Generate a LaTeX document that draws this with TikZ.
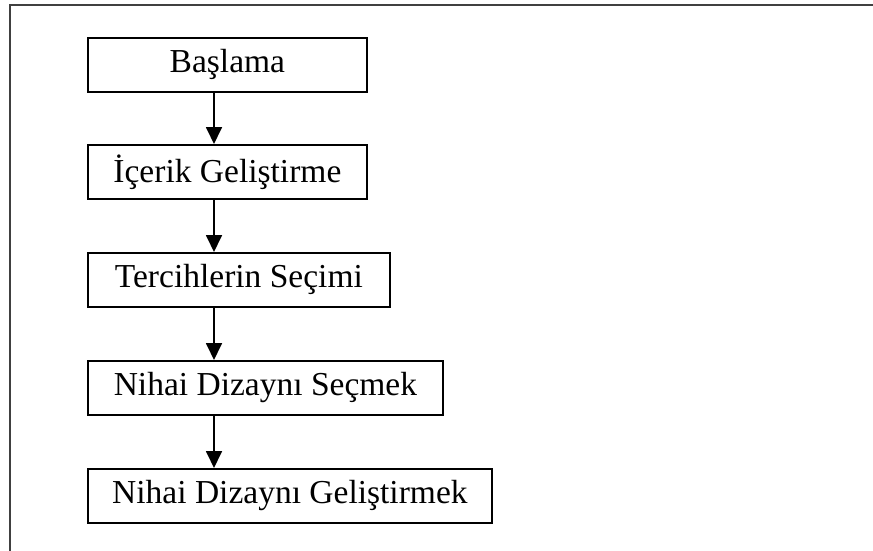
\documentclass[tikz,border=0pt]{standalone}
\usepackage{fontspec}
\setmainfont{Liberation Serif}
\usetikzlibrary{arrows.meta}
\begin{document}
\begin{tikzpicture}[x=1pt,y=-1pt,
  stepbox/.style={draw=black, line width=1.8pt, anchor=north west, minimum height=54pt,
    inner sep=0pt, font=\fontsize{33.5}{38}\selectfont, text=black},
  arr/.style={draw=black, line width=1.8pt, -{Triangle[length=17pt,width=16pt]}},
  frame/.style={draw=black!75, line width=2pt}]
\useasboundingbox (0,0) rectangle (873,551);
\draw[frame] (10,551) -- (10,5) -- (873,5);
\node[stepbox, minimum width=279pt] (b1) at (87,37) {Başlama};
\node[stepbox, minimum width=279pt] (b2) at (87,144) {İçerik Geliştirme};
\node[stepbox, minimum width=302pt] (b3) at (87,252) {Tercihlerin Seçimi};
\node[stepbox, minimum width=355pt] (b4) at (87,360) {Nihai Dizaynı Seçmek};
\node[stepbox, minimum width=404pt] (b5) at (87,468) {Nihai Dizaynı Geliştirmek};
\coordinate (ax) at (214,0);
\draw[arr] (b1.south -| ax) -- (b2.north -| ax);
\draw[arr] (b2.south -| ax) -- (b3.north -| ax);
\draw[arr] (b3.south -| ax) -- (b4.north -| ax);
\draw[arr] (b4.south -| ax) -- (b5.north -| ax);
\end{tikzpicture}
\end{document}
